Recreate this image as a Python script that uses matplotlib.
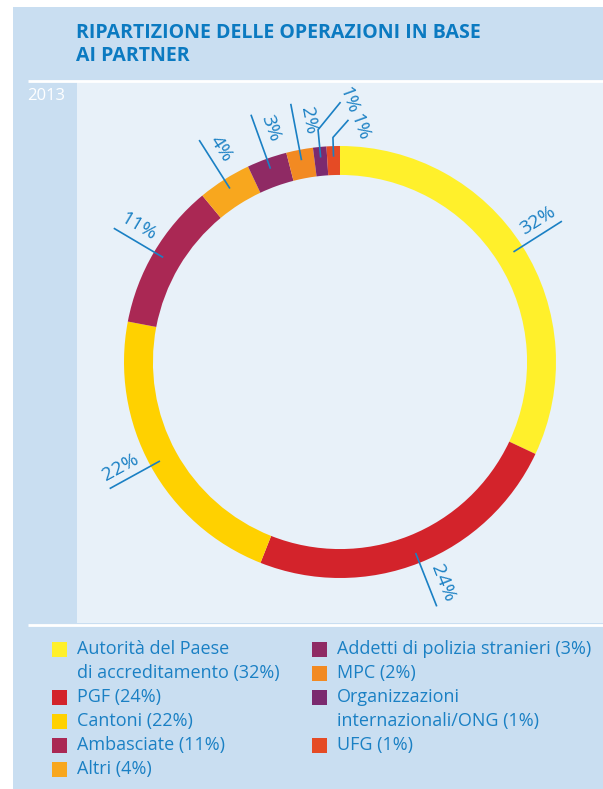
import matplotlib
matplotlib.use("Agg")
import matplotlib.pyplot as plt
from matplotlib.patches import Rectangle
import numpy as np

plt.rcParams['font.family'] = ['Open Sans', 'DejaVu Sans']

# ---- data ----
title = "RIPARTIZIONE DELLE OPERAZIONI IN BASE\nAI PARTNER"
year = "2013"
categories = ["Autorità del Paese\ndi accreditamento", "PGF", "Cantoni", "Ambasciate", "Altri",
              "Addetti di polizia stranieri", "MPC", "Organizzazioni\ninternazionali/ONG", "UFG"]
values = [32, 24, 22, 11, 4, 3, 2, 1, 1]
colors = ["#FFF02B", "#D3232B", "#FFD100", "#AA2854", "#F8A71E",
          "#8F2A64", "#F28A22", "#7B2A6F", "#E54B25"]

# ---- styling ----
W, H = 603, 789
PANEL = "#C9DEF1"
CHART = "#E8F1F9"
BLUE = "#1A80C4"
TITLE_BLUE = "#0B7AC1"

fig = plt.figure(figsize=(W / 100, H / 100), dpi=100)
fig.patch.set_facecolor("white")

bg = fig.add_axes([0, 0, 1, 1])
bg.set_xlim(0, W)
bg.set_ylim(H, 0)
bg.axis("off")
bg.add_patch(Rectangle((13, 7), W - 13, H - 7, color=PANEL, lw=0))
bg.add_patch(Rectangle((77, 82), W - 77, 623 - 82, color=CHART, lw=0))
bg.plot([28, W], [80.5, 80.5], color="white", lw=2, solid_capstyle="butt")
bg.plot([28, W], [624.5, 624.5], color="white", lw=2, solid_capstyle="butt")

bg.text(76, 32.5, title.split("\n")[0], color=TITLE_BLUE, fontsize=14, fontweight="bold",
        va="center", ha="left")
bg.text(76, 55.5, title.split("\n")[1], color=TITLE_BLUE, fontsize=14, fontweight="bold",
        va="center", ha="left")
bg.text(27, 96, year, color="white", fontsize=12, va="center", ha="left")

# ---- donut ----
cx, cy, R = 340, 362, 216
ax = fig.add_axes([(cx - R) / W, 1 - (cy + R) / H, 2 * R / W, 2 * R / H])
ax.pie(values, colors=colors, startangle=90, counterclock=False, radius=1,
       wedgeprops=dict(width=0.134, linewidth=0))
ax.set_xlim(-1, 1)
ax.set_ylim(-1, 1)
ax.axis("off")

px = 1.0 / R
r0, r1, rt = 0.955, 1.213, 1.125
cum = 0
for i, v in enumerate(values):
    theta = np.deg2rad(360 * (cum + v / 2) / 100)
    cum += v
    u = np.array([np.sin(theta), np.cos(theta)])
    lab = f"{v}%"
    if v > 1:
        p0, p1 = u * r0, u * r1
        ax.plot([p0[0], p1[0]], [p0[1], p1[1]], color=BLUE, lw=1.2, clip_on=False)
        phi = 90 - np.rad2deg(theta)
        while phi > 90:
            phi -= 180
        while phi <= -90:
            phi += 180
        up = np.array([-np.sin(np.deg2rad(phi)), np.cos(np.deg2rad(phi))])
        pos = u * rt + up * 14 * px
        ax.text(pos[0], pos[1], lab, rotation=phi, rotation_mode="anchor",
                ha="center", va="center", color=BLUE, fontsize=14, clip_on=False)
    else:
        # elbow leader for tiny slices
        if i == 7:
            re, d, toff = 1.08, (22, 27), (9, 3)
        else:
            re, d, toff = 1.04, (15, 17), (12, -7)
        p0 = u * r0
        pe = u * re
        p2 = pe + np.array(d) * px
        ax.plot([p0[0], pe[0], p2[0]], [p0[1], pe[1], p2[1]], color=BLUE, lw=1.2,
                clip_on=False)
        tp = p2 + np.array(toff) * px
        ax.text(tp[0], tp[1], lab, rotation=-70, rotation_mode="anchor",
                ha="center", va="center", color=BLUE, fontsize=14, clip_on=False)

# ---- legend ----
cols = [(52, [0, 1, 2, 3, 4]), (312, [5, 6, 7, 8])]
for x0, idxs in cols:
    y = 649
    for i in idxs:
        bg.add_patch(Rectangle((x0, y - 7.5), 15, 15, color=colors[i], lw=0))
        lines = categories[i].split("\n")
        lines[-1] = f"{lines[-1]} ({values[i]}%)"
        for ln in lines:
            bg.text(x0 + 25, y, ln, color=BLUE, fontsize=13, va="center", ha="left")
            y += 24

fig.savefig("out.png", dpi=100, facecolor=fig.get_facecolor())
